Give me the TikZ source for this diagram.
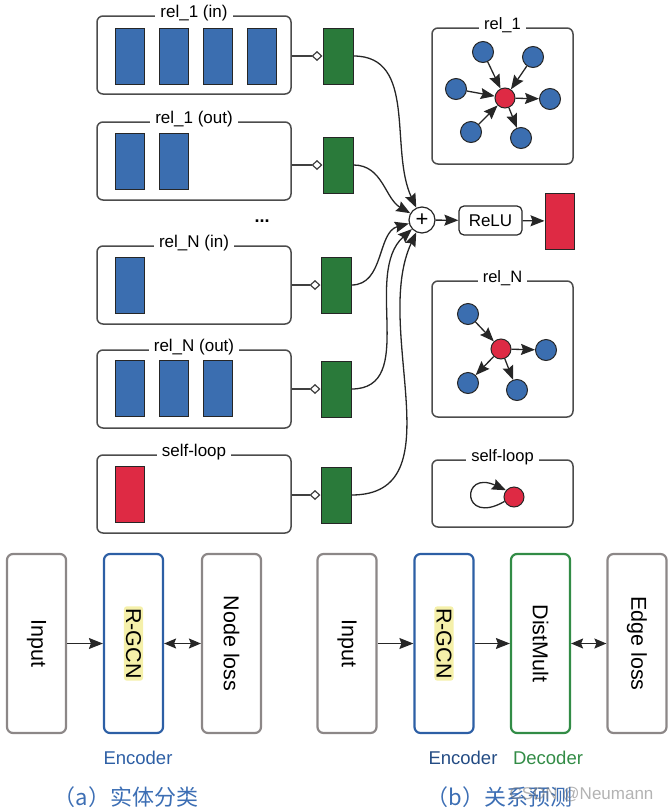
\documentclass[tikz,border=0pt]{standalone}
\usepackage{fontspec}
\setmainfont{Liberation Sans}
\newfontfamily\cjk{Noto Sans CJK SC}
\usetikzlibrary{
    arrows.meta,
    positioning
}
\definecolor{featblue}{RGB}{59,110,176}
\definecolor{wgreen}{RGB}{42,122,58}
\definecolor{nodered}{RGB}{222,42,68}
\definecolor{encblue}{RGB}{45,95,165}
\definecolor{decgreen}{RGB}{50,140,70}
\definecolor{boxgray}{RGB}{140,135,135}
\definecolor{hlyellow}{RGB}{245,240,170}
\definecolor{capblue}{RGB}{60,110,180}
\tikzset{
    panel/.style = {
        rectangle,
        rounded corners=6pt,
        draw=black!70,
        line width=1.5pt,
        minimum width=194pt,
        minimum height=78pt
    },
    gpanel/.style = {
        panel,
        minimum width=141pt,
        minimum height=136pt
    },
    reltitle/.style = {
        fill=white,
        inner xsep=5pt,
        inner ysep=1pt,
        yshift=2pt,
        font=\fontsize{17}{20}\selectfont
    },
    feat/.style = {
        rectangle,
        draw=black!85,
        line width=1pt,
        fill=featblue,
        minimum width=29pt,
        minimum height=56pt,
        inner sep=0pt
    },
    selfv/.style = {
        feat,
        fill=nodered
    },
    weight/.style = {
        feat,
        fill=wgreen,
        minimum width=30pt
    },
    ent/.style = {
        circle,
        draw=black!85,
        line width=1pt,
        fill=featblue,
        minimum size=21pt,
        inner sep=0pt
    },
    hub/.style = {
        ent,
        fill=nodered,
        minimum size=20pt
    },
    arrow/.style = {
        -{Stealth[length=14pt,width=11pt,inset=2pt]},
        line width=1.3pt,
        black!85
    },
    garrow/.style = {
        -{Stealth[length=14pt,width=11pt,inset=2pt]},
        line width=1.3pt,
        black!85
    },
    twoway/.style = {
        {Stealth[length=12pt,width=10pt,inset=2pt]}-{Stealth[length=12pt,width=10pt,inset=2pt]},
        line width=1.3pt,
        black!85
    },
    wire/.style = {
        -{Diamond[open,length=11pt,width=10pt]},
        line width=1.2pt,
        black!75
    },
    stage/.style = {
        rectangle,
        rounded corners=6pt,
        draw=boxgray,
        line width=2.2pt,
        minimum width=59pt,
        minimum height=179pt
    },
    vlabel/.style = {
        rotate=-90,
        inner sep=2pt,
        font=\fontsize{21.5}{24}\selectfont
    }
}

\begin{document}
\begin{tikzpicture}[x=1pt, y=-1pt]
\useasboundingbox (0,0) rectangle (671,809);

\node[panel] (in1) at (194,55) {};
\node[reltitle] at (in1.north) {rel\_1 (in)};
\node[feat] (in1a) at (129.5,56) {};
\node[feat, right=14pt of in1a] (in1b) {};
\node[feat, right=14pt of in1b] (in1c) {};
\node[feat, right=14pt of in1c] (in1d) {};

\node[panel] (out1) at (194,161) {};
\node[reltitle] at (out1.north) {rel\_1 (out)};
\node[feat] (out1a) at (129.5,161.5) {};
\node[feat, right=14pt of out1a] (out1b) {};

\node[font=\bfseries\fontsize{18}{20}\selectfont] (dots) at (262,221) {...};

\node[panel] (inN) at (194,285) {};
\node[reltitle] at (inN.north) {rel\_N (in)};
\node[feat] (inNa) at (129.5,285) {};

\node[panel] (outN) at (194,389) {};
\node[reltitle] at (outN.north) {rel\_N (out)};
\node[feat] (outNa) at (129.5,388.5) {};
\node[feat, right=14pt of outNa] (outNb) {};
\node[feat, right=14pt of outNb] (outNc) {};

\node[panel] (self) at (194,494) {};
\node[reltitle] at (self.north) {self-loop};
\node[selfv] (selfa) at (129.5,494) {};

\node[weight] (g1) at (338,56) {};
\node[weight] (g2) at (338,165) {};
\node[weight] (g3) at (336,285) {};
\node[weight] (g4) at (336,389) {};
\node[weight] (g5) at (336,495) {};
\draw[wire] (in1.east |- g1) -- (g1.west);
\draw[wire] (out1.east |- g2) -- (g2.west);
\draw[wire] (inN.east |- g3) -- (g3.west);
\draw[wire] (outN.east |- g4) -- (g4.west);
\draw[wire] (self.east |- g5) -- (g5.west);

\node[circle, draw=black!85, line width=1.2pt, minimum size=26pt, inner sep=0pt,
    font=\fontsize{22}{22}\selectfont] (sum) at (422,220) {+};
\node[rectangle, rounded corners=5pt, draw=black!85, line width=1.2pt,
    minimum width=63pt, minimum height=29pt,
    font=\fontsize{17}{20}\selectfont] (relu) at (490.5,220.5) {ReLU};
\node[selfv] (hout) at (559.5,221) {};
\draw[arrow] (g1.east) to[out=0, in=115] (sum);
\draw[arrow] (g2.east) to[out=0, in=150] (sum);
\draw[arrow] (g3.east) to[out=0, in=195] (sum);
\draw[arrow] (g4.east) to[out=0, in=222] (sum);
\draw[arrow] (g5.east) to[out=0, in=245] (sum);
\draw[arrow] (sum) -- (relu);
\draw[arrow] (relu) -- (hout);

\node[gpanel] (gr1) at (502.5,96) {};
\node[reltitle, font=\fontsize{16.5}{20}\selectfont] at (gr1.north) {rel\_1};
\node[hub] (c1) at (505,98) {};
\node[ent] (n11) at (483,52) {};
\node[ent] (n12) at (533,57) {};
\node[ent] (n13) at (456,89) {};
\node[ent] (n14) at (550,99) {};
\node[ent] (n15) at (471,132) {};
\node[ent] (n16) at (521,138) {};
\draw[garrow] (n11) -- (c1);
\draw[garrow] (n12) -- (c1);
\draw[garrow] (n13) -- (c1);
\draw[garrow] (c1) -- (n14);
\draw[garrow] (n15) -- (c1);
\draw[garrow] (c1) -- (n16);

\node[gpanel] (grN) at (502.5,349) {};
\node[reltitle, font=\fontsize{16.5}{20}\selectfont] at (grN.north) {rel\_N};
\node[hub] (cN) at (501,349) {};
\node[ent] (nN1) at (468,314) {};
\node[ent] (nN2) at (546,350) {};
\node[ent] (nN3) at (468,383) {};
\node[ent] (nN4) at (517,390) {};
\draw[garrow] (nN1) -- (cN);
\draw[garrow] (cN) -- (nN2);
\draw[garrow] (cN) -- (nN3);
\draw[garrow] (cN) -- (nN4);

\node[gpanel, minimum height=67pt] (grS) at (502.5,493.5) {};
\node[reltitle, font=\fontsize{16.5}{20}\selectfont] at (grS.north) {self-loop};
\node[hub] (cS) at (514,497) {};
\draw[garrow] (cS.205) .. controls +(150:50) and +(205:50) .. (cS.140);

\node[stage] (inA) at (36.5,643.5) {};
\node[vlabel] at (inA) {Input};
\node[stage, draw=encblue] (gcnA) at (133.5,643.5) {};
\node[vlabel, fill=hlyellow, rounded corners=3pt] at (gcnA) {R-GCN};
\node[stage] (lossA) at (231.5,643.5) {};
\node[vlabel] at (lossA) {Node loss};
\draw[arrow] (inA) -- (gcnA);
\draw[twoway] (gcnA) -- (lossA);
\node[text=encblue, font=\fontsize{18.5}{22}\selectfont] (encA) at (138,758) {Encoder};
\node[text=capblue, font=\cjk\fontsize{22}{26}\selectfont] (capA) at (126,797) {（a）实体分类};

\node[stage] (inB) at (347,643.5) {};
\node[vlabel] at (inB) {Input};
\node[stage, draw=encblue] (gcnB) at (444,643.5) {};
\node[vlabel, fill=hlyellow, rounded corners=3pt] at (gcnB) {R-GCN};
\node[stage, draw=decgreen] (decB) at (540.5,643.5) {};
\node[vlabel] at (decB) {DistMult};
\node[stage] (lossB) at (637,643.5) {};
\node[vlabel] at (lossB) {Edge loss};
\draw[arrow] (inB) -- (gcnB);
\draw[arrow] (gcnB) -- (decB);
\draw[twoway] (decB) -- (lossB);
\node[text=encblue!80!black, font=\fontsize{18.5}{22}\selectfont] (encB) at (463,758) {Encoder};
\node[text=decgreen, font=\fontsize{18.5}{22}\selectfont] (decL) at (548,758) {Decoder};
\node[text=capblue, font=\cjk\fontsize{22}{26}\selectfont] (capB) at (499.5,797) {（b）关系预测};
\node[text=gray, opacity=0.6, anchor=east, font=\fontsize{17}{20}\selectfont] (mark) at (657,795) {CSDN @Neumann};
\end{tikzpicture}
\end{document}
